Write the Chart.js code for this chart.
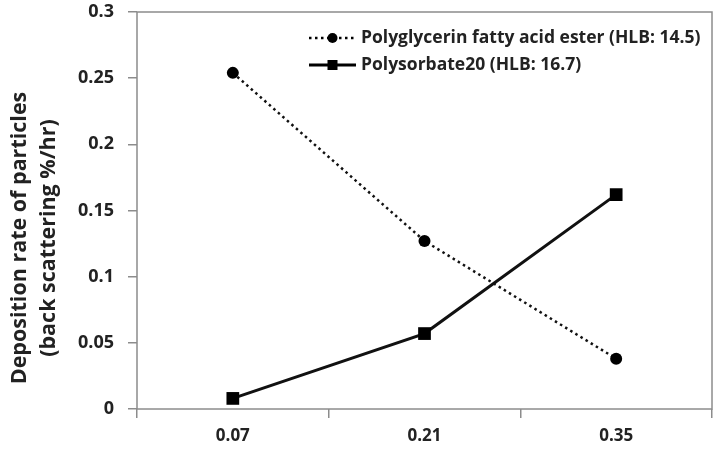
<!DOCTYPE html>
<html><head><meta charset="utf-8">
<script src="https://cdn.jsdelivr.net/npm/chart.js@4/dist/chart.umd.min.js"></script>
<style>html,body{margin:0;padding:0;background:#fff}#w{width:722px;height:462px}</style>
</head><body><div id="w"><canvas id="c" width="722" height="462"></canvas></div>
<script>
const categories = ["0.07", "0.21", "0.35"];
const polyglycerin = [0.254, 0.127, 0.038];
const polysorbate = [0.008, 0.057, 0.162];
const seriesNames = ["Polyglycerin fatty acid ester (HLB: 14.5)", "Polysorbate20 (HLB: 16.7)"];
const yTitle = ["Deposition rate of particles", "(back scattering %/hr)"];

const FONT = "'Open Sans', 'DejaVu Sans', sans-serif";

const frame = {
  id: 'frame',
  afterDraw(chart) {
    const {ctx, chartArea: a} = chart;
    ctx.save();
    ctx.strokeStyle = '#8c8c8c';
    ctx.lineWidth = 1.5;
    ctx.strokeRect(a.left, a.top, a.right - a.left, a.bottom - a.top);
    ctx.restore();
  }
};

const yTitlePlugin = {
  id: 'yTitle',
  afterDraw(chart) {
    const {ctx} = chart;
    ctx.save();
    ctx.fillStyle = '#222';
    ctx.font = "bold 21.5px " + FONT;
    ctx.textAlign = 'center';
    ctx.textBaseline = 'middle';
    const cy = 238;
    [20, 49].forEach((x, i) => {
      ctx.save();
      ctx.translate(x, cy);
      ctx.rotate(-Math.PI / 2);
      ctx.fillText(yTitle[i], 0, 0);
      ctx.restore();
    });
    ctx.restore();
  }
};

const legendPlugin = {
  id: 'customLegend',
  afterDatasetsDraw(chart) {
    const {ctx} = chart;
    ctx.save();
    const x0 = 309, x1 = 356;
    const rows = [38, 65];
    chart.data.datasets.forEach((ds, i) => {
      const y = rows[i];
      ctx.strokeStyle = '#000';
      ctx.lineWidth = ds.borderWidth;
      ctx.setLineDash(ds.borderDash || []);
      ctx.beginPath(); ctx.moveTo(x0, y); ctx.lineTo(x1, y); ctx.stroke();
      ctx.setLineDash([]);
      ctx.fillStyle = '#000';
      const cx = (x0 + x1) / 2;
      if (ds.pointStyle === 'circle') {
        ctx.beginPath(); ctx.arc(cx, y, 5, 0, Math.PI * 2); ctx.fill();
      } else {
        ctx.fillRect(cx - 5, y - 5, 10, 10);
      }
      ctx.fillStyle = '#222';
      ctx.font = "bold 17.5px " + FONT;
      ctx.textBaseline = 'middle';
      ctx.fillText(ds.label, x1 + 5, y);
    });
    ctx.restore();
  }
};

new Chart(document.getElementById('c'), {
  type: 'line',
  data: {
    labels: categories,
    datasets: [
      {
        label: seriesNames[0], data: polyglycerin,
        borderColor: '#111', backgroundColor: '#000',
        borderWidth: 2.5, borderDash: [2.5, 3.5],
        pointStyle: 'circle', pointRadius: 6, pointHoverRadius: 6,
        pointBorderWidth: 0, tension: 0
      },
      {
        label: seriesNames[1], data: polysorbate,
        borderColor: '#111', backgroundColor: '#000',
        borderWidth: 3,
        pointStyle: 'rect', pointRadius: 9, pointHoverRadius: 9,
        pointBorderWidth: 0, tension: 0
      }
    ]
  },
  options: {
    responsive: false,
    animation: false,
    layout: { padding: { left: 0, right: 10, top: 12, bottom: 0 } },
    plugins: { legend: { display: false }, tooltip: { enabled: false } },
    scales: {
      x: {
        offset: true,
        grid: { offset: true, drawOnChartArea: false, tickLength: 9, color: '#8c8c8c', lineWidth: 1.5 },
        border: { display: false },
        ticks: { color: '#222', font: { family: FONT, size: 17, weight: 'bold' }, padding: 8 },
        afterFit(s) { s.height = 53; s.paddingLeft = 0; s.paddingRight = 0; }
      },
      y: {
        min: 0, max: 0.3,
        grid: { drawOnChartArea: false, tickLength: 9, color: '#8c8c8c', lineWidth: 1.5 },
        border: { display: false },
        ticks: { stepSize: 0.05, color: '#222', font: { family: FONT, size: 18, weight: 'bold' }, padding: 14,
          callback: v => String(Math.round(v * 100) / 100) },
        title: { display: false },
        afterFit(s) { s.width = 137; s.paddingTop = 0; s.paddingBottom = 0; }
      }
    }
  },
  plugins: [frame, yTitlePlugin, legendPlugin]
});
</script>
</body></html>
